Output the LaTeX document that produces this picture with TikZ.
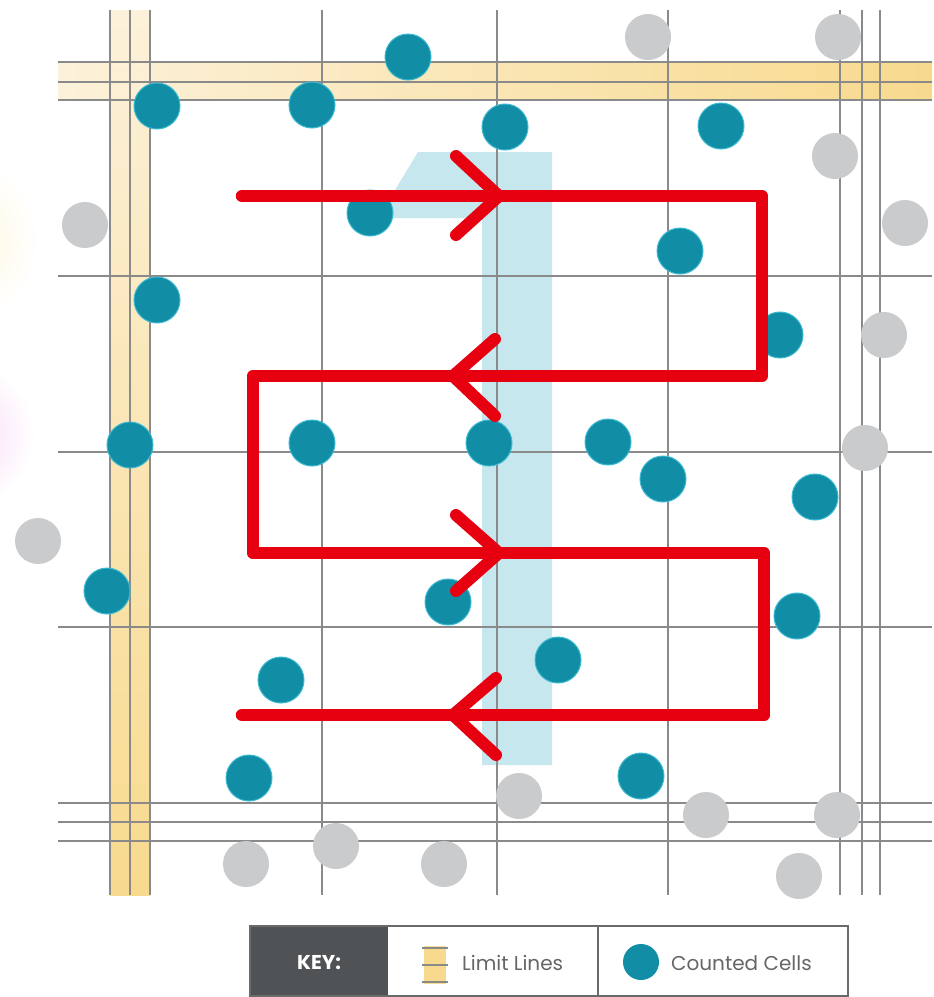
\documentclass[tikz,border=0pt]{standalone}
\usepackage{fontspec}
\setmainfont{Poppins}
\definecolor{teal1}{HTML}{128DA6}
\definecolor{tealedge}{HTML}{3CBAD0}
\definecolor{graydot}{HTML}{C9CBCD}
\definecolor{gridc}{HTML}{8A8A8A}
\definecolor{redc}{HTML}{E60010}
\definecolor{lblue}{HTML}{C6E7ED}
\definecolor{ypale}{HTML}{FCF1DA}
\definecolor{ydeep}{HTML}{F8DA8E}
\definecolor{keydark}{HTML}{505356}
\definecolor{keyline}{HTML}{6A6A6A}
\definecolor{keytext}{HTML}{666666}
\definecolor{glowy}{HTML}{FCF6DA}
\definecolor{glowp}{HTML}{F8D8F6}
\begin{document}
\begin{tikzpicture}[x=1pt,y=-1pt,
  cell/.style={circle,fill=teal1,draw=tealedge,line width=1pt,minimum size=46pt,inner sep=0pt},
  other/.style={circle,fill=graydot,minimum size=46pt,inner sep=0pt},
  gridline/.style={draw=gridc,line width=1.8pt},
  redroute/.style={draw=redc,line width=12.5pt,line join=round,line cap=round},
  chevron/.style={draw=redc,line width=12pt,line cap=round,line join=round},
  keytxt/.style={text=keytext,font=\fontsize{20}{24}\selectfont,inner sep=0pt,anchor=west}]
\useasboundingbox (0,0) rectangle (934,997);
\fill[white] (0,0) rectangle (934,997);
% soft glows on the left edge
\shade[inner color=glowy,outer color=white] (-45,240) circle (85);
\shade[inner color=glowp,outer color=white] (-40,435) circle (75);
% limit line bands
\shade[left color=ypale,right color=ydeep] (58,62) rectangle (932,100);
\shade[top color=ypale,bottom color=ydeep] (110,10) rectangle (150,895);
% light blue number one
\fill[lblue] (418,152) -- (552,152) -- (552,765) -- (482,765) -- (482,218) -- (378,218) -- cycle;
% grid lines
\foreach \x in {110,130,150,322,497,668,840,862,880}
  \draw[gridline] (\x,10) -- (\x,895);
\foreach \y in {62,82,100,276,452,627,803,822,841}
  \draw[gridline] (58,\y) -- (932,\y);
% gray (not counted) cells
\foreach \n/\x/\y in {g1/648/37,g2/838/37,g3/835/156,g4/85/225,g5/905/223,g6/884/335,g7/865/448,g8/38/541,g9/519/796,g10/336/846,g11/246/864,g12/444/864,g13/706/815,g14/837/815,g15/799/876}
  \node[other] (\n) at (\x,\y) {};
% counted cells
\foreach \n/\x/\y in {c1/408/57,c2/157/106,c3/312/105,c4/505/127,c5/721/126,c6/370/213,c7/680/251,c8/157/300,c9/780/335,c10/130/445,c11/312/443,c12/489/443,c13/608/442,c14/663/479,c15/815/497,c16/107/591,c17/448/602,c18/797/616,c19/558/660,c20/281/680,c21/249/778,c22/641/776}
  \node[cell] (\n) at (\x,\y) {};
% red scanning route
\coordinate (r0) at (242,196);
\coordinate (r1) at (762,196);
\coordinate (r2) at (762,376);
\coordinate (r3) at (253,376);
\coordinate (r4) at (253,553);
\coordinate (r5) at (764,553);
\coordinate (r6) at (764,715);
\coordinate (r7) at (242,715);
\draw[redroute] (r0) -- (r1) -- (r2) -- (r3) -- (r4) -- (r5) -- (r6) -- (r7);
% arrowheads
\coordinate (a1t) at (499,196); \coordinate (a1u) at (456,156); \coordinate (a1d) at (456,235);
\coordinate (a2t) at (453,376); \coordinate (a2u) at (495,339); \coordinate (a2d) at (495,416);
\coordinate (a3t) at (499,553); \coordinate (a3u) at (456,515); \coordinate (a3d) at (456,591);
\coordinate (a4t) at (453,715); \coordinate (a4u) at (496,678); \coordinate (a4d) at (496,755);
\draw[chevron] (a1u) -- (a1t) -- (a1d);
\draw[chevron] (a2u) -- (a2t) -- (a2d);
\draw[chevron] (a3u) -- (a3t) -- (a3d);
\draw[chevron] (a4u) -- (a4t) -- (a4d);
% key
\fill[white] (250,926) rectangle (848,996);
\fill[keydark] (250,926) rectangle (388,996);
\draw[keyline,line width=2pt] (250,926) rectangle (848,996);
\draw[keyline,line width=2pt] (598,926) -- (598,996);
\node[text=white,font=\bfseries\fontsize{20}{24}\selectfont,inner sep=0pt] (keylbl) at (319,963) {KEY:};
\fill[ydeep] (424,946) rectangle (446,984);
\foreach \y in {948,965,982}
  \draw[gridc,line width=1.5pt] (422,\y) -- (448,\y);
\node[keytxt] (limtxt) at (462,963) {Limit Lines};
\node[circle,fill=teal1,minimum size=36pt,inner sep=0pt] (keydot) at (641,962) {};
\node[keytxt] (celltxt) at (671,963) {Counted Cells};
\end{tikzpicture}
\end{document}
